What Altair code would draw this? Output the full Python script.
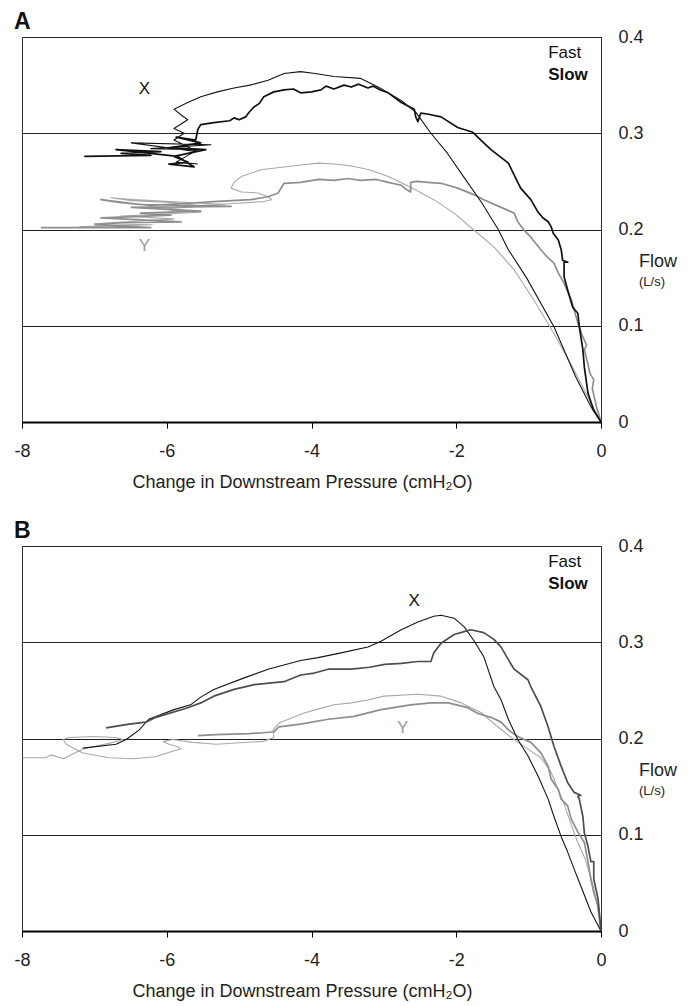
import altair as alt
import pandas as pd

FONT = "Liberation Sans"

# ---------------- axis ticks ----------------
x_ticks = [-8, -6, -4, -2, 0]
y_ticks = [0, 0.1, 0.2, 0.3, 0.4]

# ---------------- Panel A ----------------
a_xfast_p = [0, -0.14, -0.35, -0.65, -1.03, -1.28, -1.42, -1.65, -1.90, -2.12,
             -2.35, -2.56, -2.76, -3.08, -3.32, -3.69, -3.95, -4.15, -4.38, -4.60,
             -4.85, -5.07, -5.30, -5.53, -5.71, -5.90, -5.80, -5.71, -5.90, -5.76,
             -5.90, -5.71, -5.60, -6.49, -5.39, -6.22, -5.57, -5.87, -5.57]
a_xfast_f = [0, 0.016, 0.047, 0.099, 0.150, 0.179, 0.200, 0.228, 0.255, 0.279,
             0.300, 0.322, 0.334, 0.348, 0.357, 0.359, 0.362, 0.364, 0.362, 0.355,
             0.350, 0.347, 0.343, 0.338, 0.332, 0.325, 0.319, 0.314, 0.305, 0.300,
             0.293, 0.286, 0.281, 0.290, 0.288, 0.284, 0.283, 0.270, 0.268]

a_xslow_p = [0, -0.10, -0.18, -0.23, -0.25, -0.30, -0.32, -0.39, -0.46, -0.51,
             -0.51, -0.46, -0.53, -0.55, -0.59, -0.66, -0.69, -0.73, -0.80, -0.87,
             -0.97, -1.11, -1.15, -1.28, -1.40, -1.52, -1.62, -1.77, -1.98, -2.21,
             -2.40, -2.49, -2.53, -2.56, -2.58, -2.76, -2.94, -3.05, -3.15, -3.22,
             -3.35, -3.45, -3.55, -3.69, -3.80, -3.87, -4.00, -4.15, -4.25, -4.38,
             -4.52, -4.66, -4.72, -4.80, -4.87, -4.91, -5.00, -5.07, -5.13, -5.35,
             -5.53, -5.57, -5.60, -5.87, -5.53, -5.94, -5.46, -5.90, -5.71, -5.97,
             -5.62, -5.85, -6.70, -6.08, -6.63, -6.22, -7.14]
a_xslow_f = [0, 0.012, 0.030, 0.057, 0.075, 0.099, 0.113, 0.119, 0.137, 0.151,
             0.166, 0.166, 0.168, 0.179, 0.189, 0.196, 0.203, 0.208, 0.212, 0.218,
             0.231, 0.243, 0.249, 0.269, 0.276, 0.283, 0.290, 0.301, 0.306, 0.317,
             0.320, 0.321, 0.312, 0.317, 0.325, 0.332, 0.342, 0.345, 0.349, 0.347,
             0.351, 0.348, 0.350, 0.346, 0.349, 0.345, 0.343, 0.342, 0.346, 0.345,
             0.343, 0.338, 0.331, 0.327, 0.321, 0.317, 0.314, 0.316, 0.313, 0.311,
             0.309, 0.304, 0.293, 0.296, 0.290, 0.285, 0.283, 0.276, 0.270, 0.268,
             0.265, 0.276, 0.283, 0.281, 0.279, 0.277, 0.276]

a_yfast_p = [0, -0.18, -0.40, -0.65, -0.93, -1.20, -1.48, -1.75, -2.03, -2.31,
             -2.63, -2.94, -3.20, -3.45, -3.69, -3.90, -4.15, -4.38, -4.70, -4.97,
             -5.07, -5.11, -4.97, -4.74, -4.60, -4.55, -4.66, -5.07, -5.57, -5.94,
             -6.49, -6.77, -6.45, -5.20, -6.08, -5.53, -6.63, -5.90, -7.00, -6.20,
             -7.20, -6.55]
a_yfast_f = [0, 0.026, 0.058, 0.092, 0.127, 0.158, 0.182, 0.199, 0.217, 0.231,
             0.244, 0.255, 0.262, 0.266, 0.268, 0.269, 0.267, 0.265, 0.262, 0.255,
             0.249, 0.243, 0.239, 0.238, 0.234, 0.231, 0.229, 0.227, 0.225, 0.228,
             0.230, 0.233, 0.231, 0.226, 0.221, 0.218, 0.214, 0.211, 0.206, 0.205,
             0.203, 0.202]

a_yslow_p = [0, -0.06, -0.12, -0.10, -0.15, -0.18, -0.23, -0.20, -0.26, -0.32,
             -0.41, -0.51, -0.59, -0.65, -0.75, -0.83, -0.97, -1.06, -1.15, -1.20,
             -1.38, -1.62, -1.75, -1.98, -2.21, -2.39, -2.55, -2.63, -2.63, -2.70,
             -2.76, -2.94, -3.10, -3.32, -3.50, -3.69, -3.90, -4.15, -4.38, -4.46,
             -4.60, -4.84, -5.35, -5.76, -6.22, -6.63, -6.91, -6.36, -5.11, -6.49,
             -5.53, -6.36, -5.94, -6.91, -5.80, -6.63, -6.99, -6.22, -7.74]
a_yslow_f = [0, 0.015, 0.035, 0.044, 0.050, 0.060, 0.075, 0.080, 0.090, 0.103,
             0.127, 0.144, 0.155, 0.165, 0.172, 0.179, 0.192, 0.199, 0.208, 0.217,
             0.223, 0.231, 0.236, 0.243, 0.248, 0.249, 0.250, 0.249, 0.239, 0.242,
             0.246, 0.249, 0.252, 0.251, 0.253, 0.251, 0.252, 0.249, 0.248, 0.238,
             0.234, 0.231, 0.229, 0.227, 0.225, 0.228, 0.231, 0.226, 0.224, 0.223,
             0.219, 0.217, 0.215, 0.212, 0.208, 0.207, 0.205, 0.202, 0.202]

# ---------------- Panel B ----------------
b_xfast_p = [0, -0.14, -0.28, -0.37, -0.46, -0.55, -0.65, -0.73, -0.87, -1.01,
             -1.15, -1.28, -1.38, -1.48, -1.62, -1.75, -1.89, -2.03, -2.21, -2.31,
             -2.53, -2.76, -3.04, -3.22, -3.59, -3.91, -4.15, -4.60, -4.93, -5.35,
             -5.53, -5.67, -5.90, -6.25, -6.38, -6.56, -6.70, -7.16]
b_xfast_f = [0, 0.020, 0.047, 0.064, 0.082, 0.098, 0.119, 0.137, 0.161, 0.182,
             0.199, 0.220, 0.240, 0.254, 0.285, 0.301, 0.316, 0.325, 0.328, 0.327,
             0.321, 0.313, 0.301, 0.295, 0.289, 0.284, 0.281, 0.272, 0.263, 0.251,
             0.243, 0.235, 0.230, 0.220, 0.209, 0.199, 0.194, 0.190]

b_xslow_p = [0, -0.04, -0.10, -0.10, -0.14, -0.18, -0.23, -0.25, -0.30, -0.32,
             -0.28, -0.37, -0.46, -0.55, -0.65, -0.73, -0.83, -0.97, -1.01, -1.20,
             -1.28, -1.38, -1.48, -1.62, -1.80, -1.89, -2.03, -2.21, -2.31, -2.35,
             -2.53, -2.76, -2.99, -3.20, -3.45, -3.77, -3.96, -4.15, -4.38, -4.79,
             -5.07, -5.35, -5.53, -5.71, -6.15, -6.29, -6.52, -6.84]
b_xslow_f = [0, 0.033, 0.054, 0.072, 0.072, 0.088, 0.102, 0.119, 0.137, 0.140,
             0.141, 0.144, 0.154, 0.171, 0.192, 0.212, 0.233, 0.254, 0.261, 0.272,
             0.282, 0.295, 0.303, 0.310, 0.313, 0.311, 0.308, 0.299, 0.289, 0.280,
             0.280, 0.278, 0.277, 0.274, 0.272, 0.272, 0.268, 0.266, 0.259, 0.256,
             0.251, 0.244, 0.237, 0.232, 0.222, 0.217, 0.215, 0.211]

b_yfast_p = [0, -0.06, -0.12, -0.22, -0.32, -0.41, -0.50, -0.58, -0.69, -0.83,
             -1.01, -1.24, -1.42, -1.66, -1.93, -2.21, -2.53, -3.00, -3.22, -3.45,
             -3.69, -3.94, -4.12, -4.45, -4.53, -4.52, -4.67, -5.32, -5.64, -5.91,
             -6.05, -5.97, -5.87, -5.80, -5.91, -6.15, -6.47, -6.80, -7.16, -7.39,
             -7.43, -7.35, -7.02, -6.70, -6.60, -6.74, -7.16, -7.43, -7.60, -7.67,
             -7.99]
b_yfast_f = [0, 0.030, 0.050, 0.075, 0.092, 0.110, 0.130, 0.145, 0.165, 0.180,
             0.189, 0.201, 0.212, 0.227, 0.237, 0.244, 0.246, 0.244, 0.240, 0.237,
             0.235, 0.230, 0.226, 0.216, 0.209, 0.201, 0.197, 0.194, 0.196, 0.199,
             0.197, 0.194, 0.192, 0.189, 0.187, 0.181, 0.179, 0.180, 0.185, 0.194,
             0.199, 0.201, 0.202, 0.201, 0.199, 0.196, 0.189, 0.179, 0.183, 0.180,
             0.180]

b_yslow_p = [0, -0.04, -0.10, -0.14, -0.18, -0.23, -0.32, -0.41, -0.46, -0.55,
             -0.59, -0.69, -0.73, -0.83, -0.97, -1.15, -1.28, -1.38, -1.52, -1.70,
             -1.84, -2.11, -2.35, -2.63, -3.04, -3.41, -3.77, -4.15, -4.45, -4.52,
             -4.67, -4.86, -5.32, -5.57]
b_yslow_f = [0, 0.026, 0.040, 0.054, 0.072, 0.092, 0.103, 0.116, 0.130, 0.137,
             0.147, 0.158, 0.171, 0.185, 0.196, 0.202, 0.209, 0.217, 0.222, 0.226,
             0.232, 0.237, 0.237, 0.235, 0.230, 0.223, 0.220, 0.215, 0.212, 0.207,
             0.206, 0.205, 0.204, 0.203]

# label anchor positions (data units)
a_xlabel = (-6.31, 0.346)
a_ylabel = (-6.31, 0.183)
b_xlabel = (-2.58, 0.343)
b_ylabel = (-2.74, 0.211)
legend_p = -0.73
fast_f = 0.383
slow_f = 0.361

W, H = 579, 385

xscale = alt.Scale(domain=[-8, 0], nice=False, zero=False)
yscale = alt.Scale(domain=[0, 0.4], nice=False)

xaxis = alt.Axis(values=x_ticks, labelExpr="datum.value + ''", grid=False,
                 tickSize=6, tickColor="#000", tickWidth=1,
                 domainColor="#000", domainWidth=2,
                 labelFontSize=18, labelColor="#222", labelPadding=14,
                 labelFlush=False, labelFont=FONT,
                 title="Change in Downstream Pressure (cmH\u2082O)",
                 titleFontSize=18, titleFontWeight="normal", titleColor="#222",
                 titleFont=FONT, titlePadding=13, titleX=280)
yaxis = alt.Axis(orient="right", values=y_ticks, labelExpr="datum.value + ''",
                 grid=True, gridColor="#222", gridWidth=1, ticks=False,
                 domain=True, domainColor="#333", domainWidth=1,
                 labelFontSize=18, labelColor="#222", labelPadding=17,
                 labelFlush=False, labelFont=FONT, title=None)


def enc_x():
    return alt.X("p:Q", scale=xscale, axis=xaxis)


def enc_y():
    return alt.Y("f:Q", scale=yscale, axis=yaxis)


def line(p, f, color, width):
    df = pd.DataFrame({"p": p, "f": f, "i": list(range(len(p)))})
    return alt.Chart(df).mark_line(color=color, strokeWidth=width, clip=True,
                                   strokeJoin="round").encode(
        x=enc_x(), y=enc_y(), order="i:Q",
    )


def text(p, f, s, color="#111", size=17, weight="normal", align="center"):
    df = pd.DataFrame({"p": [p], "f": [f], "t": [s]})
    return alt.Chart(df).mark_text(color=color, fontSize=size, fontWeight=weight,
                                   align=align, baseline="middle", font=FONT).encode(
        x=enc_x(), y=enc_y(), text="t:N",
    )


def side_text(f, s, size):
    df = pd.DataFrame({"f": [f], "t": [s]})
    return alt.Chart(df).mark_text(color="#222", fontSize=size, align="left",
                                   baseline="middle", font=FONT).encode(
        x=alt.value(W + 38), y=enc_y(), text="t:N",
    )


def panel(letter, xf, xs, yf, ys, xs_color, xlab, ylab):
    layers = [
        line(yf[0], yf[1], "#a9a9a9", 1.1),
        line(ys[0], ys[1], "#8e8e8e", 1.7),
        line(xf[0], xf[1], "#151515", 1.1),
        line(xs[0], xs[1], xs_color, 1.7),
        text(xlab[0], xlab[1], "X", color="#111"),
        text(ylab[0], ylab[1], "Y", color="#9a9a9a"),
        text(legend_p, fast_f, "Fast", align="left"),
        text(legend_p, slow_f, "Slow", weight="bold", align="left"),
        side_text(0.166, "Flow", 18),
        side_text(0.145, "(L/s)", 13),
    ]
    return alt.layer(*layers).properties(
        width=W, height=H,
        title=alt.TitleParams(letter, anchor="start", fontSize=23, fontWeight="bold",
                              color="#111", dx=-8, offset=-6, frame="group", font=FONT),
    )


pa = panel("A", (a_xfast_p, a_xfast_f), (a_xslow_p, a_xslow_f),
           (a_yfast_p, a_yfast_f), (a_yslow_p, a_yslow_f), "#111111", a_xlabel, a_ylabel)
pb = panel("B", (b_xfast_p, b_xfast_f), (b_xslow_p, b_xslow_f),
           (b_yfast_p, b_yfast_f), (b_yslow_p, b_yslow_f), "#4d4d4d", b_xlabel, b_ylabel)

chart = (
    alt.vconcat(pa, pb, spacing=27)
    .properties(padding={"left": 5, "top": 2, "right": 5, "bottom": 5})
    .configure(font=FONT, background="white")
    .configure_view(stroke="#333", strokeWidth=1)
)

chart.save("out.html", embed_options={"renderer": "svg", "actions": False})
